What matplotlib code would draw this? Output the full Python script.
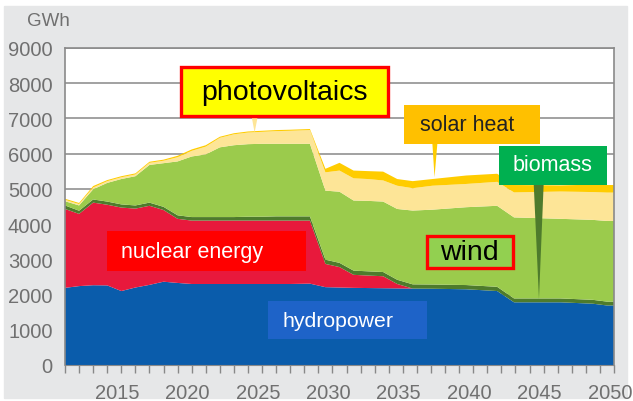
import matplotlib
matplotlib.use("Agg")
import matplotlib.pyplot as plt
from matplotlib.patches import Rectangle, Polygon

plt.rcParams['font.family'] = ['Liberation Sans', 'DejaVu Sans']

# data (GWh per layer, stacked bottom to top)
years = [2011, 2012, 2013, 2014, 2015, 2016, 2017, 2018, 2019, 2020, 2021, 2022,
         2023, 2024, 2025, 2026, 2027, 2028.4, 2029.5, 2030.5, 2031.5, 2032.5,
         2033.6, 2034.6, 2035.7, 2037.1, 2039.5, 2041.7, 2042.9, 2046.2, 2048.5,
         2049.5, 2050]
hydropower = [2190, 2240, 2265, 2260, 2100, 2200, 2275, 2365, 2330, 2300, 2300, 2300,
              2300, 2300, 2300, 2300, 2300, 2310, 2210, 2200, 2190, 2185,
              2180, 2175, 2170, 2165, 2150, 2100, 1780, 1780, 1740,
              1690, 1690]
nuclear = [2240, 2050, 2345, 2290, 2370, 2240, 2245, 2035, 1820, 1800, 1800, 1800,
           1800, 1800, 1800, 1800, 1800, 1790, 660, 580, 370, 355,
           340, 125, 0, 0, 0, 0, 0, 0, 0,
           0, 0]
biomass = [100, 90, 90, 90, 90, 90, 90, 90, 100, 100, 100, 100,
           100, 110, 110, 120, 120, 120, 120, 120, 120, 120,
           120, 120, 120, 120, 120, 120, 110, 110, 110,
           110, 110]
wind = [120, 150, 290, 530, 720, 830, 1070, 1240, 1530, 1720, 1780, 1980,
        2040, 2060, 2070, 2060, 2060, 2060, 1960, 2020, 1990, 2000,
        2000, 2010, 2095, 2125, 2210, 2300, 2300, 2260, 2270,
        2290, 2290]
photovoltaics = [40, 40, 50, 50, 50, 50, 60, 70, 120, 160, 220, 270,
                 310, 330, 340, 360, 370, 390, 520, 600, 630, 620,
                 600, 660, 635, 680, 660, 680, 710, 775, 790,
                 805, 805]
solar_heat = [30, 30, 40, 30, 30, 30, 30, 30, 40, 40, 40, 30,
              30, 30, 30, 30, 30, 30, 100, 220, 220, 225,
              250, 190, 200, 190, 240, 230, 210, 175, 210,
              215, 215]

tick_years = list(range(2011, 2051))
label_years = [2015, 2020, 2025, 2030, 2035, 2040, 2045, 2050]
y_ticks = list(range(0, 9001, 1000))

colors = ['#0A5CAB', '#E8193C', '#4E7B2C', '#9BCB4C', '#FDE597', '#FFCC00']

W, H = 633, 402
fig = plt.figure(figsize=(W / 100, H / 100), dpi=100)
fig.patch.set_facecolor('white')
fig.patches.append(Rectangle((4 / W, 1 - 399 / H), 623 / W, 392 / H,
                             transform=fig.transFigure, color='#E6E7E8', zorder=-10))

ax = fig.add_axes([65 / W, 1 - 366 / H, 549 / W, 317 / H])
ax.set_facecolor('white')

ax.stackplot(years, hydropower, nuclear, biomass, wind, photovoltaics, solar_heat,
             colors=colors, linewidth=0, zorder=2)

ax.set_xlim(2011, 2050)
ax.set_ylim(0, 9000)
ax.set_yticks(y_ticks)
ax.yaxis.grid(True, color='#9A9A9A', linewidth=1.3, zorder=1)
ax.set_axisbelow(True)

ax.set_xticks(tick_years, minor=True)
ax.set_xticks([y - 0.3 for y in label_years], [str(y) for y in label_years])
ax.tick_params(axis='x', which='minor', length=6, width=1, color='#888888', direction='out')
ax.tick_params(axis='x', which='major', length=0, pad=13, labelsize=14.5, labelcolor='#707070')
ax.tick_params(axis='y', length=0, pad=9, labelsize=14.5, labelcolor='#707070')

for side in ['left', 'top', 'right']:
    ax.spines[side].set_color('#8A8A8A')
    ax.spines[side].set_linewidth(1.2)
ax.spines['bottom'].set_color('#8A8A8A')

fig.text(27 / W, 1 - 22 / H, 'GWh', fontsize=13.5, color='#707070', va='center', ha='left')


def label_box(x0, x1, y0, y1, text, face, tcolor, size, edge=None, tx=None, ty=None):
    rect = Rectangle((x0, y0), x1 - x0, y1 - y0, facecolor=face,
                     edgecolor=edge if edge else 'none', linewidth=2.4 if edge else 0,
                     zorder=6, clip_on=False)
    ax.add_patch(rect)
    ax.text(tx if tx else (x0 + x1) / 2, ty if ty else (y0 + y1) / 2, text,
            color=tcolor, fontsize=size, ha='center', va='center', zorder=7)


def pointer(xl, xr, ytop, xa, ya, color):
    ax.add_patch(Polygon([(xl, ytop), (xr, ytop), (xa, ya)], closed=True,
                         facecolor=color, edgecolor='none', zorder=5, clip_on=False))


# pointers
pointer(2024.25, 2024.7, 7070, 2024.47, 6600, '#FDE597')
pointer(2037.1, 2037.45, 6275, 2037.25, 5330, '#FFCC00')
pointer(2044.3, 2045.0, 5111, 2044.67, 1870, '#4E7B2C')

# labels
label_box(2019.24, 2033.95, 7070, 8460, 'photovoltaics', '#FFFF00', 'black', 20.5,
          edge='#FF0000', tx=2026.6, ty=7740)
label_box(2035.08, 2044.74, 6275, 7370, 'solar heat', '#FFC000', '#222222', 15.5,
          tx=2039.6, ty=6840)
label_box(2041.85, 2049.48, 5111, 6210, 'biomass', '#00B050', 'white', 15.5,
          tx=2045.6, ty=5690)
label_box(2013.98, 2028.12, 2677, 3796, 'nuclear energy', '#FF0000', 'white', 15.5,
          tx=2020.0, ty=3230)
label_box(2025.4, 2036.7, 738, 1809, 'hydropower', '#1E63C8', 'white', 15.3,
          tx=2030.4, ty=1270)
label_box(2036.7, 2042.85, 2763, 3654, 'wind', '#92D050', 'black', 20.5,
          edge='#FF0000', tx=2039.7, ty=3200)

fig.savefig('out.png', dpi=100)
